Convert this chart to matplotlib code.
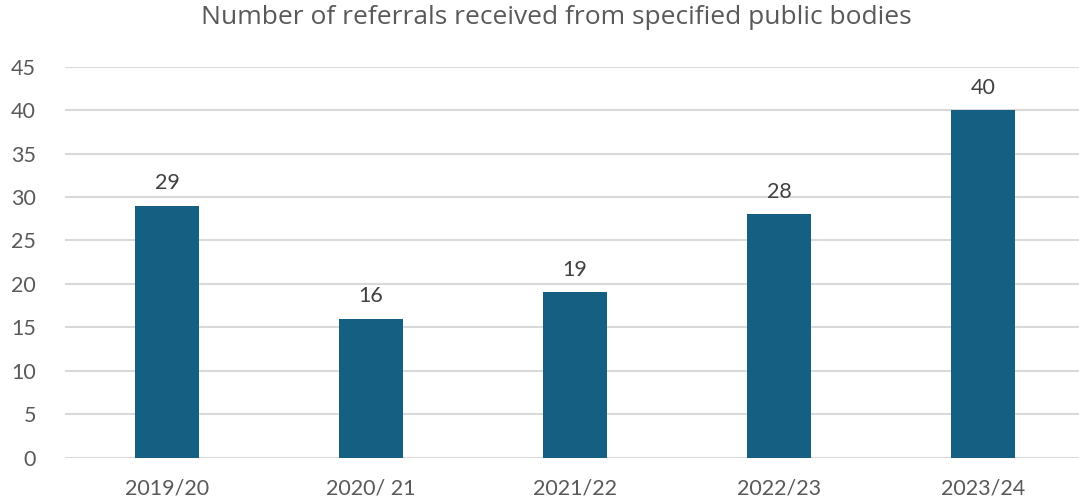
import matplotlib
matplotlib.use("Agg")
import matplotlib.pyplot as plt

years = ['2019/20', '2020/ 21', '2021/22', '2022/23', '2023/24']
referrals = [29, 16, 19, 28, 40]

W, H = 1079, 503
text_color = '#595959'
bar_color = '#156082'
grid_color = '#d9d9d9'

plt.rcParams['font.family'] = ['Lato', 'DejaVu Sans']

fig = plt.figure(figsize=(W / 100, H / 100), dpi=100)
# axes spans from x=65 to 1085 px (runs slightly off the right edge), y from 458 to 67
ax = fig.add_axes([65 / W, (H - 457.5) / H, 1020 / W, (457.5 - 66.7) / H])

xs = range(len(years))
ax.bar(xs, referrals, width=0.314, color=bar_color, zorder=3)
for x, v in zip(xs, referrals):
    ax.annotate(str(v), (x, v), xytext=(0, 9), textcoords='offset points',
                ha='center', va='bottom', fontsize=15.5, color='#404040')

ax.set_xlim(-0.5, len(years) - 0.5)
ax.set_ylim(0, 45)
ax.set_yticks(range(0, 46, 5))
ax.set_xticks(list(xs))
ax.set_xticklabels(years)
ax.grid(axis='y', color=grid_color, linewidth=1.5, zorder=0)
for s in ax.spines.values():
    s.set_visible(False)
ax.tick_params(axis='both', length=0, labelsize=15.5, colors=text_color)
ax.tick_params(axis='y', pad=21)
ax.tick_params(axis='x', pad=15)

fig.text(556 / W, 1 - 18 / H, 'Number of referrals received from specified public bodies',
         ha='center', va='center', fontsize=19, color=text_color,
         family=['Open Sans', 'DejaVu Sans'])

fig.savefig('out.png', dpi=100)
